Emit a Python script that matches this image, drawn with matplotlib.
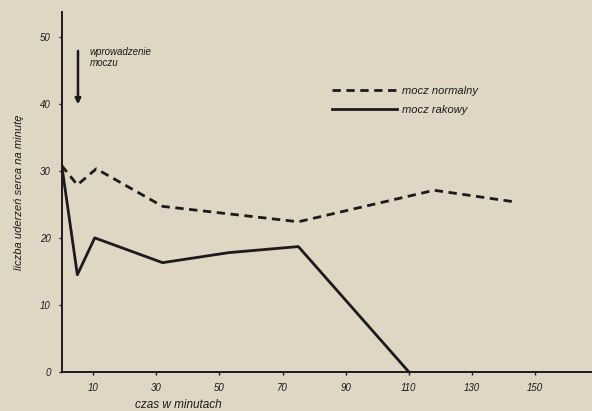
import matplotlib
matplotlib.use("Agg")
import matplotlib.pyplot as plt

czas_norm = [0, 5, 11, 32, 75, 118, 143]
mocz_normalny = [30.8, 27.9, 30.3, 24.7, 22.4, 27.1, 25.4]
czas_rak = [0, 5, 10.5, 32, 53, 75, 110]
mocz_rakowy = [31.0, 14.5, 20.0, 16.3, 17.8, 18.7, 0.0]

xticks = [10, 30, 50, 70, 90, 110, 130, 150]
yticks = [0, 10, 20, 30, 40, 50]

bg = '#dfd6c3'
ink = '#1c1a1c'
plt.rcParams['font.family'] = ['Liberation Sans', 'DejaVu Sans']
plt.rcParams['font.style'] = 'italic'

fig = plt.figure(figsize=(5.92, 4.11), dpi=100, facecolor=bg)
ax = fig.add_axes([0.104, 0.095, 0.896, 0.876], facecolor=bg)

ax.plot(czas_norm, mocz_normalny, color=ink, lw=2.0, ls=(0, (3, 2)),
        label='mocz normalny')
ax.plot(czas_rak, mocz_rakowy, color=ink, lw=2.0, label='mocz rakowy')

ax.set_xlim(0, 168)
ax.set_ylim(0, 53.7)
ax.set_xticks(xticks)
ax.set_yticks(yticks)
ax.tick_params(labelsize=7, colors=ink, length=2, width=1, pad=6)
for s in ['top', 'right']:
    ax.spines[s].set_visible(False)
for s in ['left', 'bottom']:
    ax.spines[s].set_color(ink)
    ax.spines[s].set_linewidth(1.4)

ax.set_ylabel('liczba uderzeń serca na minutę', fontsize=8, color=ink)
ax.yaxis.set_label_coords(-0.07, 0.5)
ax.set_xlabel('czas w minutach', fontsize=8.5, color=ink)
ax.xaxis.set_label_coords(0.22, -0.075)

# strzałka: wprowadzenie moczu
ax.annotate('', xy=(5.2, 39.5), xytext=(5.2, 48.3),
            arrowprops=dict(arrowstyle='-|>', color=ink, lw=1.8,
                            mutation_scale=8))
ax.text(9, 48.5, 'wprowadzenie\nmoczu', fontsize=7, color=ink,
        va='top', ha='left', linespacing=1.1)

leg = ax.legend(loc='upper left', bbox_to_anchor=(0.5, 0.81), frameon=False,
                fontsize=8, handlelength=5.8, handletextpad=0.5,
                labelspacing=0.8, borderpad=0)
for t in leg.get_texts():
    t.set_color(ink)

fig.savefig('out.png', dpi=100, facecolor=bg)
